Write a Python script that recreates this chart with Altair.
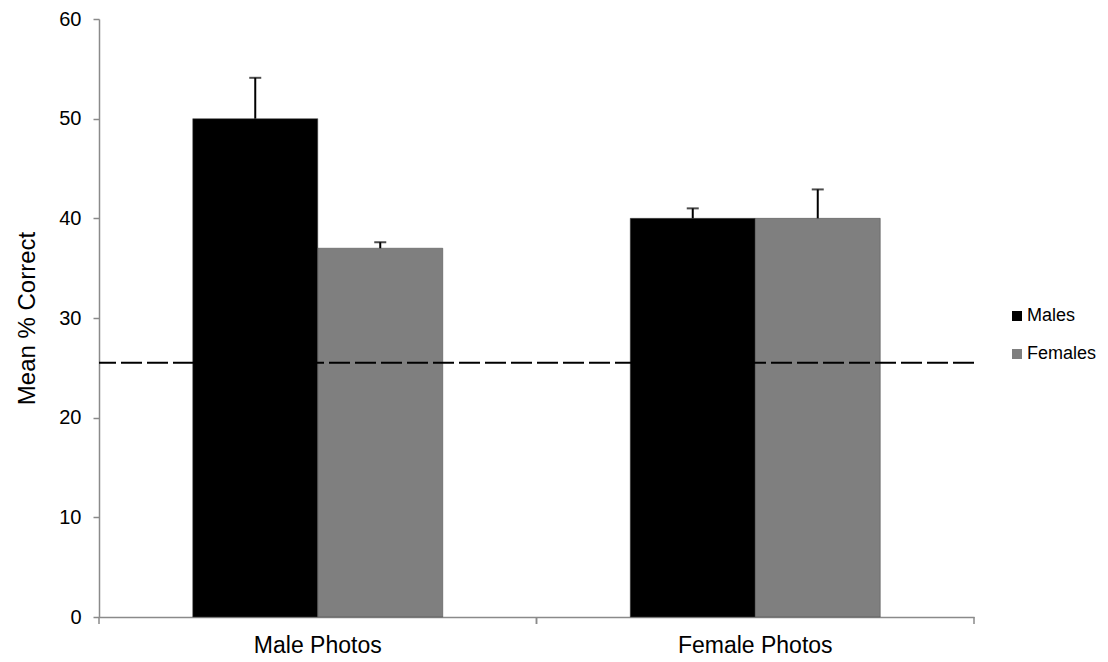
import altair as alt
import pandas as pd

# ---- data ----
categories = ["Male Photos", "Female Photos"]
groups = ["Males", "Females"]
photo_col = ["Male Photos", "Male Photos", "Female Photos", "Female Photos"]
group_col = ["Males", "Females", "Males", "Females"]
means = [50.0, 37.0, 40.0, 40.0]
errors = [4.1, 0.6, 1.0, 2.9]
chance_level = [25.5]
colors = ["#000000", "#7f7f7f"]

df = pd.DataFrame({
    "photo": photo_col,
    "group": group_col,
    "mean": means,
    "upper": [m + e for m, e in zip(means, errors)],
})
df_chance = pd.DataFrame({"value": chance_level})
df_cats = pd.DataFrame({"photo": categories})

FONT = "Liberation Sans"
AXIS_GRAY = "#8a8a8a"
W, H = 875, 598

x_enc = alt.X(
    "photo:N",
    sort=categories,
    scale=alt.Scale(paddingInner=0, paddingOuter=0),
    axis=alt.Axis(
        title=None, labelAngle=0, ticks=False, labelFontSize=23, labelFont=FONT,
        labelColor="black", labelPadding=17, domainColor=AXIS_GRAY, domainWidth=1.5,
    ),
)
xoff = alt.XOffset("group:N", sort=groups,
                   scale=alt.Scale(paddingOuter=0.75, paddingInner=0))
y_scale = alt.Scale(domain=[0, 60], nice=False)

bars = alt.Chart(df).mark_bar(stroke="#444444", strokeWidth=0.5).encode(
    x=x_enc,
    xOffset=xoff,
    y=alt.Y(
        "mean:Q", scale=y_scale,
        axis=alt.Axis(
            title="Mean % Correct", values=[0, 10, 20, 30, 40, 50, 60], grid=False,
            labelFontSize=20, labelFont=FONT, labelColor="black", labelPadding=12,
            tickSize=6, tickColor=AXIS_GRAY, tickWidth=1.5,
            domainColor=AXIS_GRAY, domainWidth=1.5,
            titleFontSize=24, titleFont=FONT, titleFontWeight="normal",
            titleColor="black", titlePadding=19,
        ),
    ),
    color=alt.Color(
        "group:N", sort=groups,
        scale=alt.Scale(domain=groups, range=colors),
        legend=alt.Legend(
            title=None, orient="none", legendX=909, legendY=288,
            symbolType="square", symbolSize=100, symbolStrokeWidth=0,
            labelFontSize=18, labelFont=FONT, labelColor="black",
            labelOffset=1, rowPadding=20, padding=0,
        ),
    ),
)

err_rule = alt.Chart(df).mark_rule(color="black", strokeWidth=2).encode(
    x=alt.X("photo:N", sort=categories),
    xOffset=xoff,
    y=alt.Y("mean:Q", scale=y_scale),
    y2="upper:Q",
)

err_cap = alt.Chart(df).mark_tick(color="black", size=12, thickness=2).encode(
    x=alt.X("photo:N", sort=categories),
    xOffset=xoff,
    y=alt.Y("upper:Q", scale=y_scale),
)

chance = alt.Chart(df_chance).mark_rule(
    color="black", strokeWidth=2, strokeDash=[21, 5]
).encode(y=alt.Y("value:Q", scale=y_scale))

tick_start = alt.Chart(df_cats).mark_rule(color=AXIS_GRAY, strokeWidth=1.5).encode(
    x=alt.X("photo:N", sort=categories, bandPosition=0),
    y=alt.value(H), y2=alt.value(H + 7),
)
tick_end = alt.Chart(df_cats).mark_rule(color=AXIS_GRAY, strokeWidth=1.5).encode(
    x=alt.X("photo:N", sort=categories, bandPosition=1),
    y=alt.value(H), y2=alt.value(H + 7),
)

chart = alt.layer(
    bars, chance, err_rule, err_cap, tick_start, tick_end
).properties(
    width=W, height=H,
    background="white",
    autosize=alt.AutoSizeParams(type="none"),
    padding={"left": 91, "top": 11, "right": 126, "bottom": 45},
).configure_view(strokeWidth=0, stroke="transparent")

chart.save("out.html", embed_options={"renderer": "svg", "actions": False})
